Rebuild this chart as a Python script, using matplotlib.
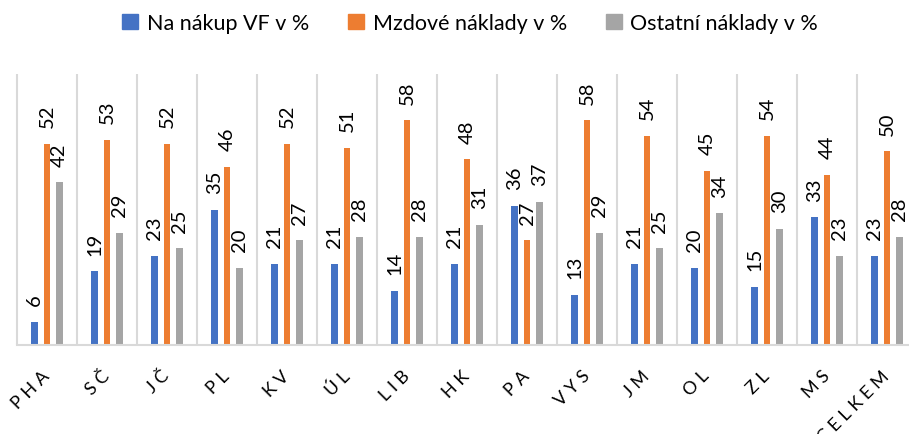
import matplotlib
matplotlib.use('Agg')
import matplotlib.pyplot as plt
from matplotlib.patches import Patch
import numpy as np

plt.rcParams['font.family'] = ['Lato', 'DejaVu Sans']

categories = ['PHA', 'SČ', 'JČ', 'PL', 'KV', 'ÚL', 'LIB', 'HK', 'PA', 'VYS',
              'JM', 'OL', 'ZL', 'MS', 'CELKEM']
nakup = [6, 19, 23, 35, 21, 21, 14, 21, 36, 13, 21, 20, 15, 33, 23]
mzdove = [52, 53, 52, 46, 52, 51, 58, 48, 27, 58, 54, 45, 54, 44, 50]
ostatni = [42, 29, 25, 20, 27, 28, 28, 31, 37, 29, 25, 34, 30, 23, 28]
series_names = ['Na nákup VF v %', 'Mzdové náklady v %', 'Ostatní náklady v %']
colors = ['#4472C4', '#ED7D31', '#A5A5A5']

W, H = 909, 435
fig = plt.figure(figsize=(W / 100, H / 100), dpi=100)
ax = fig.add_axes([17 / W, 1 - 346 / H, 900 / W, (346 - 75) / H])
ax.set_xlim(-0.5, len(categories) - 0.5)
ax.set_ylim(0, 70)

x = np.arange(len(categories))
offsets = [-0.205, 0.0, 0.205]
bw = 0.11
grid_c = '#d9d9d9'

ax.vlines(np.arange(-0.5, len(categories), 1), 0, 70, color=grid_c, lw=1.5,
          zorder=0, clip_on=False)

for vals, off, c in zip([nakup, mzdove, ostatni], offsets, colors):
    ax.bar(x + off, vals, width=bw, color=c, zorder=2)
    for xi, v in zip(x + off, vals):
        ax.annotate(str(v), (xi, v), xytext=(0, 12), textcoords='offset points',
                    rotation=90, ha='center', va='bottom', fontsize=14.5,
                    color='black')

for s in ['top', 'left', 'right']:
    ax.spines[s].set_visible(False)
ax.spines['bottom'].set_color(grid_c)
ax.spines['bottom'].set_linewidth(1.5)
ax.set_yticks([])
ax.set_xticks(x)
spaced = [' '.join(list(c)) for c in categories]
ax.set_xticklabels(spaced, rotation=45, ha='right', va='center',
                   rotation_mode='anchor', fontsize=13, color='black')
ax.tick_params(axis='x', length=0, pad=20)

handles = [Patch(color=c, label=n) for c, n in zip(colors, series_names)]
fig.legend(handles=handles, loc='center', bbox_to_anchor=(470 / W, 1 - 24 / H),
           ncol=3, frameon=False, handlelength=0.75, handleheight=0.75,
           handletextpad=0.4, columnspacing=1.8, fontsize=15.5)

fig.savefig('out.png', dpi=100)
